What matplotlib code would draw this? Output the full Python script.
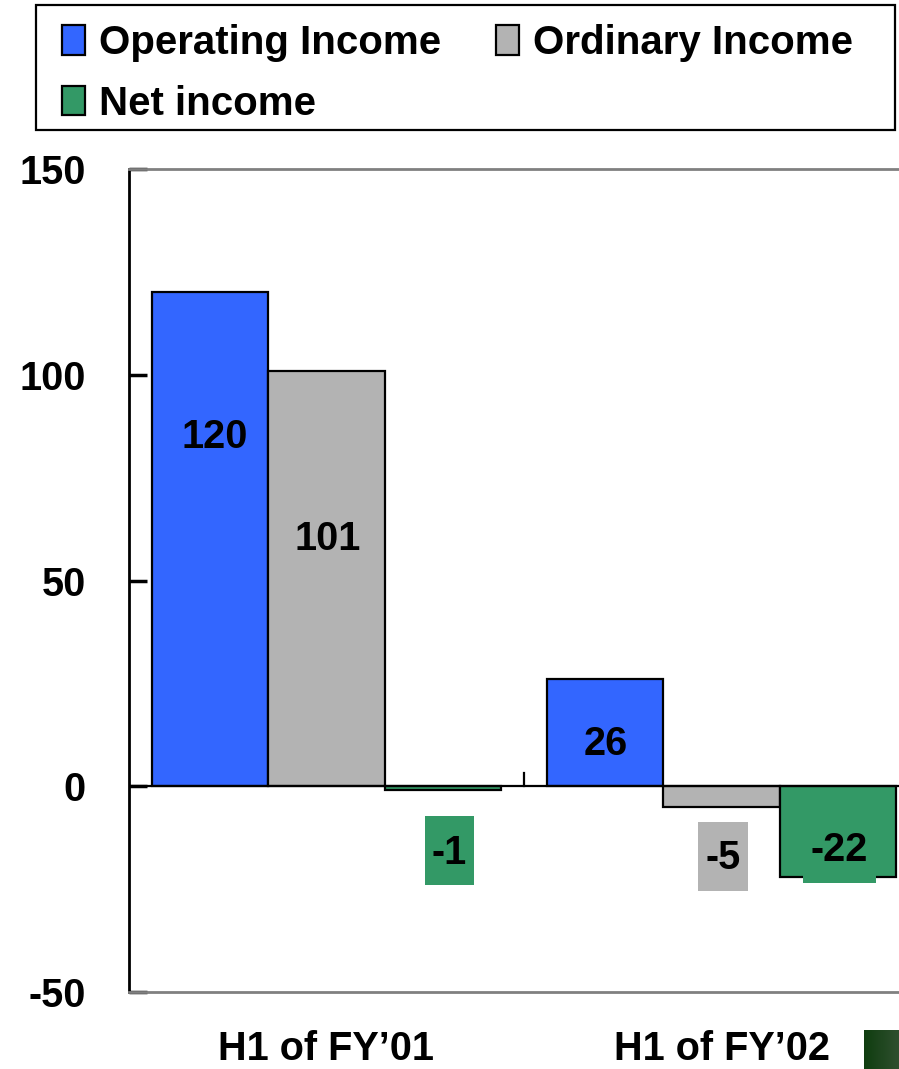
import numpy as np
import matplotlib
matplotlib.use("Agg")
import matplotlib.pyplot as plt
from matplotlib.patches import Rectangle
from matplotlib.colors import LinearSegmentedColormap

# ---- data ----
categories = ["H1 of FY\u201901", "H1 of FY\u201902"]
series_names = ["Operating Income", "Ordinary Income", "Net income"]
operating = [120, 26]
ordinary = [101, -5]
net = [-1, -22]
y_ticks = [-50, 0, 50, 100, 150]

colors = ["#3366FF", "#B3B3B3", "#339966"]
FONT = ["Liberation Sans", "DejaVu Sans"]

W, H = 899, 1069
fig = plt.figure(figsize=(W / 100, H / 100), dpi=100)

# axes: left 129px, right beyond figure (919px), top 169px, bottom 992px
ax_l, ax_r, ax_t, ax_b = 129, 919, 169, 992
ax = fig.add_axes([ax_l / W, 1 - ax_b / H, (ax_r - ax_l) / W, (ax_b - ax_t) / H])

x = np.arange(len(categories))
bw = 0.294
series = [operating, ordinary, net]
offsets = [-bw, 0, bw]
bars = []
for s, vals, off, c in zip(series_names, series, offsets, colors):
    b = ax.bar(x + off, vals, width=bw, color=c, edgecolor="black",
               linewidth=1.6, label=s, zorder=2)
    bars.append(b)

ax.set_xlim(-0.5, 1.5)
ax.set_ylim(-50, 150)

# zero line
ax.axhline(0, color="black", linewidth=1.6, zorder=3)
# category separator tick on zero line
sep = (x[0] + x[1]) / 2
ax.plot([sep, sep], [0, 3.2], color="black", linewidth=1.6, zorder=3)

# value label layout (positions within chart, per category / series)
label_y = [[85.3, 60.4, -15.7], [10.7, -17.0, -15.2]]
label_dx = [[0.012, 0.003, 0.017], [0.0, 0.004, 0.005]]
box_w = [[0, 0, 0.124], [0, 0.127, 0.185]]
box_h = 16.8
for si, vals in enumerate(series):
    for ci, v in enumerate(vals):
        xx = x[ci] + offsets[si] + label_dx[ci][si]
        yy = label_y[ci][si]
        if v < 0:
            bwid = box_w[ci][si]
            ax.add_patch(Rectangle((xx - bwid / 2, yy - box_h / 2), bwid, box_h,
                                   facecolor=colors[si], edgecolor="none",
                                   zorder=4))
        ax.text(xx, yy - 0.4, f"{v}", ha="center", va="center", fontsize=28.5,
                fontweight="bold", family=FONT, color="black", zorder=5)

# spines
ax.spines["left"].set_color("black")
ax.spines["left"].set_linewidth(2)
ax.spines["top"].set_color("#808080")
ax.spines["top"].set_linewidth(2)
ax.spines["bottom"].set_color("#808080")
ax.spines["bottom"].set_linewidth(2)
ax.spines["right"].set_visible(False)

ax.set_yticks(y_ticks)
ax.set_yticklabels([str(t) for t in y_ticks], fontsize=28.5, fontweight="bold",
                   family=FONT)
ax.tick_params(axis="y", direction="in", length=13, width=2.5, color="black",
               pad=31)
ax.set_xticks(x)
ax.set_xticklabels(categories, fontsize=28.5, fontweight="bold", family=FONT)
ax.tick_params(axis="x", length=0, pad=27)

# legend frame
fig.patches.append(Rectangle((36 / W, 1 - 130 / H), (895 - 36) / W, (130 - 5) / H,
                             transform=fig.transFigure, facecolor="white",
                             edgecolor="black", linewidth=1.6, zorder=0))
handles = [bars[0], bars[2], bars[1]]
labels = [series_names[0], series_names[2], series_names[1]]
leg = fig.legend(handles, labels, loc="upper left",
                 bbox_to_anchor=(62 / W, 1 - 24 / H), ncol=2, frameon=False,
                 prop=dict(family=FONT, weight="bold", size=29),
                 handlelength=0.57, handleheight=0.75, handletextpad=0.35,
                 columnspacing=1.37, labelspacing=0.56, borderpad=0.0,
                 borderaxespad=0.0)

# dark green gradient square bottom right
gax = fig.add_axes([864 / W, 0, 35 / W, 39 / H])
grad = np.linspace(0, 1, 64)[None, :]
cmap = LinearSegmentedColormap.from_list("g", ["#0f3d0f", "#2f4f2f"])
gax.imshow(grad, aspect="auto", cmap=cmap)
gax.axis("off")

fig.savefig("out.png", dpi=100)
